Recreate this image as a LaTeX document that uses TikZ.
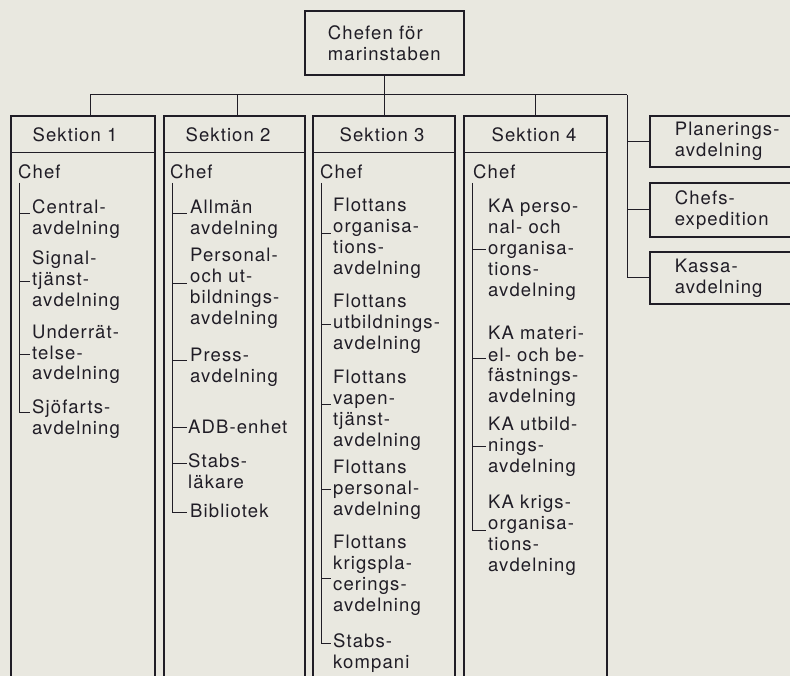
\documentclass[tikz,border=0pt]{standalone}
\usepackage{fontspec}
\setmainfont{TeX Gyre Heros}[LetterSpace=6]
\usetikzlibrary{calc}
\definecolor{paper}{RGB}{233,232,224}
\definecolor{ink}{RGB}{32,29,38}
\begin{document}
\begin{tikzpicture}[x=1pt,y=-1pt,
  every node/.style={font=\fontsize{18.5}{21}\selectfont, text=ink, inner sep=0pt},
  entry/.style={anchor=base west, align=left, text width=118pt},
  label/.style={anchor=base west},
  header/.style={anchor=base},
  secbox/.style={draw=ink, line width=1.6pt, anchor=north west, minimum height=620pt},
  rbox/.style={draw=ink, line width=1.6pt, anchor=north west, align=left,
    text width=150pt, inner xsep=24pt, inner ysep=0pt, minimum width=200pt},
  bus/.style={draw=ink, line width=1pt},
  tree/.style={draw=ink, line width=0.9pt},
]
\fill[paper] (0,0) rectangle (790,676);
\useasboundingbox (0,0) rectangle (790,676);
\clip (0,0) rectangle (790,676);

% top box
\node[draw=ink, line width=1.6pt, anchor=north west, minimum width=159pt,
  minimum height=64pt, align=left] (top) at (304,10) {Chefen för\\marinstaben};

% section boxes
\node[secbox, minimum width=144pt] (sec1) at (10,115) {};
\node[secbox, minimum width=141pt] (sec2) at (163,115) {};
\node[secbox, minimum width=142pt] (sec3) at (312,115) {};
\node[secbox, minimum width=143pt] (sec4) at (463,115) {};
\foreach \s in {sec1,sec2,sec3,sec4}
  \draw[bus] ($(\s.north west)+(0,38)$) -- ($(\s.north east)+(0,38)$);

\node[header] (h1) at (75,142) {Sektion 1};
\node[header] (h2) at (228,142) {Sektion 2};
\node[header] (h3) at (382,142) {Sektion 3};
\node[header] (h4) at (534,142) {Sektion 4};

% right boxes
\node[rbox, minimum height=51pt] (plan) at (649,115) {Planerings-\\avdelning};
\node[rbox, minimum height=54pt] (chefs) at (649,182) {Chefs-\\expedition};
\node[rbox, minimum height=52pt] (kassa) at (649,251) {Kassa-\\avdelning};

% bus
\coordinate (b1) at (90,95);
\coordinate (b2) at (237,95);
\coordinate (b4) at (535,95);
\coordinate (b5) at (627,95);
\draw[bus] (b1) -- (b5);
\draw[bus] (top.south) -- (top.south |- sec3.north);
\draw[bus] (b1) -- (b1 |- sec1.north);
\draw[bus] (b2) -- (b2 |- sec2.north);
\draw[bus] (b4) -- (b4 |- sec4.north);
\draw[bus] (b5) |- (kassa.west);
\draw[bus] (b5 |- plan.west) -- (plan.west);
\draw[bus] (b5 |- chefs.west) -- (chefs.west);

% chef labels
\node[label] (c1) at (18,179) {Chef};
\node[label] (c2) at (170,179) {Chef};
\node[label] (c3) at (320,179) {Chef};
\node[label] (c4) at (473,179) {Chef};

% Section 1
\node[entry] (e11) at (32,214) {Central-\\avdelning};
\node[entry] (e12) at (32,265) {Signal-\\tjänst-\\avdelning};
\node[entry] (e13) at (32,338) {Underrät-\\telse-\\avdelning};
\node[entry] (e14) at (32,413) {Sjöfarts-\\avdelning};
\coordinate (t10) at (19,183);
\draw[tree] (t10) |- (30,412);
\foreach \y in {213,281,354} \draw[tree] (19,\y) -- (30,\y);

% Section 2
\node[entry] (e21) at (190,214) {Allmän\\avdelning};
\node[entry] (e22) at (190,262) {Personal-\\och ut-\\bildnings-\\avdelning};
\node[entry] (e23) at (190,361) {Press-\\avdelning};
\node[entry] (e24) at (188,433) {ADB-enhet};
\node[entry] (e25) at (188,467) {Stabs-\\läkare};
\node[entry] (e26) at (190,517) {Bibliotek};
\coordinate (t20) at (172,183);
\draw[tree] (t20) |- (187,512);
\foreach \y in {213,283,360,427,463} \draw[tree] (172,\y) -- (187,\y);

% Section 3
\node[entry] (e31) at (333,212) {Flottans\\organisa-\\tions-\\avdelning};
\node[entry] (e32) at (333,308) {Flottans\\utbildnings-\\avdelning};
\node[entry] (e33) at (333,383) {Flottans\\vapen-\\tjänst-\\avdelning};
\node[entry] (e34) at (333,473) {Flottans\\personal-\\avdelning};
\node[entry] (e35) at (333,548) {Flottans\\krigspla-\\cerings-\\avdelning};
\node[entry] (e36) at (333,647) {Stabs-\\kompani};
\coordinate (t30) at (321,183);
\draw[tree] (t30) |- (331,643);
\foreach \y in {233,324,404,489,578} \draw[tree] (321,\y) -- (331,\y);

% Section 4
\node[entry] (e41) at (488,213) {KA perso-\\nal- och\\organisa-\\tions-\\avdelning};
\node[entry] (e42) at (488,340) {KA materi-\\el- och be-\\fästnings-\\avdelning};
\node[entry] (e43) at (488,430) {KA utbild-\\nings-\\avdelning};
\node[entry] (e44) at (488,508) {KA krigs-\\organisa-\\tions-\\avdelning};
\coordinate (t40) at (472,183);
\draw[tree] (t40) |- (486,530);
\foreach \y in {249,358,446} \draw[tree] (472,\y) -- (486,\y);
\end{tikzpicture}
\end{document}
